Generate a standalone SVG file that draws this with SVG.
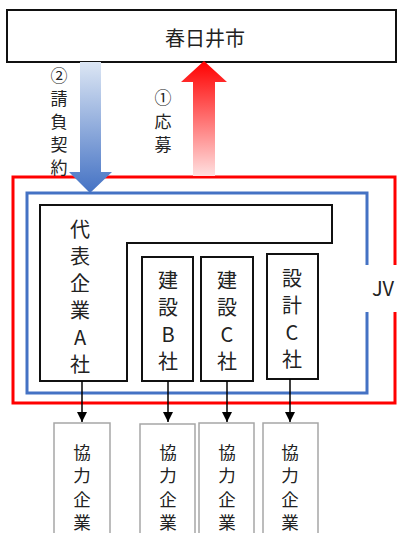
<svg xmlns="http://www.w3.org/2000/svg" width="400" height="533" viewBox="0 0 400 533">
<style>
text{font-family:"Noto Sans CJK JP","Noto Sans",sans-serif;fill:#222;text-anchor:middle;dominant-baseline:central}
.t20{font-size:20px}
.t17{font-size:17px}
.tb{font-size:17.5px}
.box{fill:#fff;stroke:#111;stroke-width:2}
.sub{fill:#fff;stroke:#a6a6a6;stroke-width:1.5}
.conn{stroke:#000;stroke-width:1.5;fill:none}
</style>
<defs>
<linearGradient id="gBlue" x1="0" y1="0" x2="0" y2="1">
<stop offset="0" stop-color="#dce6f4"/>
<stop offset="1" stop-color="#4472c4"/>
</linearGradient>
<linearGradient id="gRed" x1="0" y1="1" x2="0" y2="0">
<stop offset="0" stop-color="#ffe0e0"/>
<stop offset="1" stop-color="#ff0000"/>
</linearGradient>
<marker id="ah" viewBox="0 0 10 10" refX="10" refY="5" markerWidth="10" markerHeight="10" markerUnits="userSpaceOnUse" orient="auto">
<path d="M0,0 L10,5 L0,10 z" fill="#000"/>
</marker>
</defs>

<g id="city">
<rect x="7" y="10" width="389" height="52" fill="#fff" stroke="#111" stroke-width="2"/>
<text class="t20" x="205" y="37">春日井市</text>
</g>

<g id="jv-frame">
<path d="M395,265 V177 H13 V403 H395 V312" fill="none" stroke="#ff0000" stroke-width="3"/>
<path d="M367,265 V193 H27 V393 H367 V312" fill="none" stroke="#4472c4" stroke-width="3"/>
<text class="t20" x="383" y="287">JV</text>
</g>

<g id="arrow-contract">
<polygon points="80,62 101,62 101,172 112,172 90,193 69,172 80,172" fill="url(#gBlue)"/>
<text class="t17" x="59" y="74">②</text>
<text class="t17" x="59" y="97">請</text>
<text class="t17" x="59" y="120">負</text>
<text class="t17" x="59" y="143">契</text>
<text class="t17" x="59" y="166">約</text>
</g>

<g id="arrow-apply">
<polygon points="193,176 215,176 215,82 227,82 204,61 181,82 193,82" fill="url(#gRed)"/>
<text class="t17" x="163" y="96">①</text>
<text class="t17" x="163" y="120">応</text>
<text class="t17" x="163" y="143">募</text>
</g>

<g id="companyA">
<polygon class="box" points="40,205 332,205 332,243 127,243 127,381 40,381"/>
<text class="t20" x="80" y="228">代</text>
<text class="t20" x="80" y="255">表</text>
<text class="t20" x="80" y="282">企</text>
<text class="t20" x="80" y="309">業</text>
<text class="t20" x="80" y="336">A</text>
<text class="t20" x="80" y="363">社</text>
</g>

<g id="companyB">
<rect class="box" x="142" y="257" width="51" height="124"/>
<text class="t20" x="168" y="279">建</text>
<text class="t20" x="168" y="306">設</text>
<text class="t20" x="168" y="333">B</text>
<text class="t20" x="168" y="360">社</text>
</g>

<g id="companyC">
<rect class="box" x="201" y="257" width="52" height="124"/>
<text class="t20" x="227" y="279">建</text>
<text class="t20" x="227" y="306">設</text>
<text class="t20" x="227" y="333">C</text>
<text class="t20" x="227" y="360">社</text>
</g>

<g id="designC">
<rect class="box" x="267" y="254" width="51" height="125"/>
<text class="t20" x="292" y="277">設</text>
<text class="t20" x="292" y="304">計</text>
<text class="t20" x="292" y="331">C</text>
<text class="t20" x="292" y="358">社</text>
</g>

<g id="connectors">
<line class="conn" x1="82" y1="381" x2="82" y2="422" marker-end="url(#ah)"/>
<line class="conn" x1="168" y1="381" x2="168" y2="422" marker-end="url(#ah)"/>
<line class="conn" x1="227" y1="381" x2="227" y2="422" marker-end="url(#ah)"/>
<line class="conn" x1="290" y1="379" x2="290" y2="422" marker-end="url(#ah)"/>
</g>

<g id="sub1">
<rect class="sub" x="54" y="423" width="56" height="120"/>
<text class="tb" x="82" y="451">協</text>
<text class="tb" x="82" y="474.5">力</text>
<text class="tb" x="82" y="498">企</text>
<text class="tb" x="82" y="521.5">業</text>
</g>
<g id="sub2">
<rect class="sub" x="140" y="424" width="55" height="120"/>
<text class="tb" x="168" y="451">協</text>
<text class="tb" x="168" y="474.5">力</text>
<text class="tb" x="168" y="498">企</text>
<text class="tb" x="168" y="521.5">業</text>
</g>
<g id="sub3">
<rect class="sub" x="199" y="423" width="55" height="120"/>
<text class="tb" x="227" y="451">協</text>
<text class="tb" x="227" y="474.5">力</text>
<text class="tb" x="227" y="498">企</text>
<text class="tb" x="227" y="521.5">業</text>
</g>
<g id="sub4">
<rect class="sub" x="263" y="423" width="55" height="120"/>
<text class="tb" x="290" y="451">協</text>
<text class="tb" x="290" y="474.5">力</text>
<text class="tb" x="290" y="498">企</text>
<text class="tb" x="290" y="521.5">業</text>
</g>
</svg>
